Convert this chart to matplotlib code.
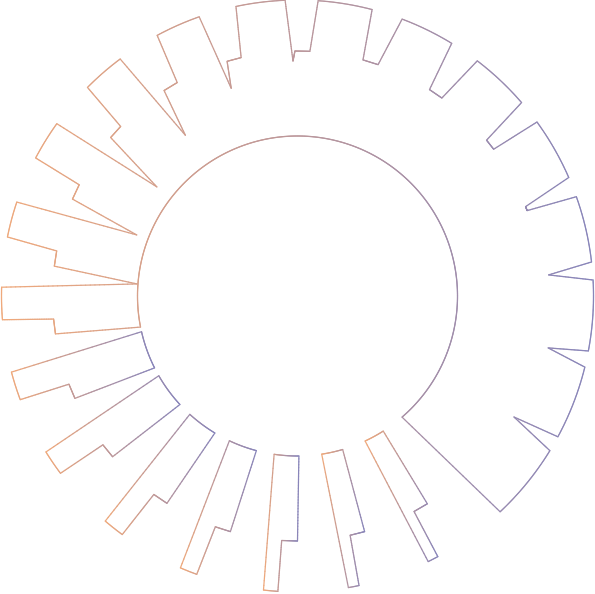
import numpy as np
import matplotlib
matplotlib.use("Agg")
import matplotlib.pyplot as plt
from matplotlib.collections import LineCollection
from matplotlib.colors import LinearSegmentedColormap

# radii of the three levels (pixels from centre)
R_IN, R_MID, R_OUT = 160, 245, 296

# upper band: outline vertices, angle in degrees (0 = right, ccw), radius
top_theta = [191.2, 188.9, 185.4, 184.6, 178.3,
             175.7, 173.0, 169.4, 168.5, 161.5,
             159.2, 156.7, 153.0, 152.2, 144.4,
             142.2, 139.7, 136.2, 135.2, 126.8,
             124.9, 123.0, 119.4, 118.3, 109.4,
             107.7, 106.7, 103.3, 102.0, 92.4,
             91.1, 90.6, 87.1, 86.0, 75.4,
             74.5, 70.8, 69.3, 58.6,
             57.4, 53.9, 52.6, 40.8,
             39.5, 36.8, 36.0, 23.6,
             21.4, 20.4, 19.6, 6.6,
             4.8, 3.1, -10.7,
             -11.7, -13.9, -28.4,
             -29.2, -31.5, -46.8,
             -49.2]
top_r = [160, 245, 245, 296, 296,
         161, 245, 245, 296, 296,
         172, 245, 245, 296, 296,
         178, 245, 245, 296, 296,
         196, 245, 245, 296, 296,
         218, 245, 245, 296, 296,
         235, 245, 245, 296, 296,
         245, 245, 296, 296,
         245, 245, 296, 296,
         245, 245, 296, 296,
         245, 245, 296, 296,
         252, 296, 296,
         256, 296, 296,
         248, 296, 296,
         160]

# lower bars: angles of inner arc, notch and outer arc
bar_in_a = [192.9, 209.9, 227.7, 244.8, 261.6, 278.7, 295.0]
bar_in_b = [206.7, 222.7, 238.9, 255.1, 270.5, 286.4, 302.4]
bar_mid_a = [204.7, 221.0, 237.8, 254.1, 270.0, 285.9, 302.0]
bar_mid_b = [201.1, 217.4, 234.1, 250.4, 266.3, 282.4, 298.4]
bar_out_a = [200.5, 216.8, 233.7, 250.1, 266.2, 282.0, 298.3]
bar_out_b = [194.9, 211.8, 229.5, 246.7, 263.4, 279.9, 296.2]

ORANGE = "#efa97c"
PURPLE = "#8885ba"
cmap = LinearSegmentedColormap.from_list("stroke", [ORANGE, PURPLE])


def edge(t0, r0, t1, r1, arc):
    """points from (t0, r0) to (t1, r1): arc at constant radius or straight line"""
    if arc:
        n = int(abs(t1 - t0) * 4) + 2
        t = np.radians(np.linspace(t0, t1, n))
        r = np.linspace(r0, r1, n)
        return r * np.cos(t), r * np.sin(t)
    x0, y0 = r0 * np.cos(np.radians(t0)), r0 * np.sin(np.radians(t0))
    x1, y1 = r1 * np.cos(np.radians(t1)), r1 * np.sin(np.radians(t1))
    s = np.linspace(0, 1, 30)
    return x0 + (x1 - x0) * s, y0 + (y1 - y0) * s


def outline(thetas, radii, arcs):
    xs, ys = [], []
    n = len(thetas)
    for i in range(n):
        j = (i + 1) % n
        t1 = thetas[j]
        if j == 0 and arcs[i] and t1 < thetas[i]:
            t1 += 360  # closing arc keeps going counter-clockwise
        x, y = edge(thetas[i], radii[i], t1, radii[j], arcs[i])
        xs.append(x)
        ys.append(y)
    return np.concatenate(xs), np.concatenate(ys)


def draw_gradient(ax, x, y, lw=0.9):
    pts = np.column_stack([x, y])
    segs = np.stack([pts[:-1], pts[1:]], axis=1)
    mid = (pts[:-1, 0] + pts[1:, 0]) / 2
    t = (mid - x.min()) / (x.max() - x.min())
    lc = LineCollection(segs, colors=cmap(t), linewidths=lw, capstyle="round")
    ax.add_collection(lc)


fig = plt.figure(figsize=(5.95, 5.94), dpi=100)
ax = fig.add_axes([0, 0, 1, 1])
ax.set_xlim(-297.5, 297.5)
ax.set_ylim(-298, 296)
ax.set_aspect("equal")
ax.axis("off")

# upper band: outer sawtooth, closed by the inner circle arc
n_top = len(top_theta)
top_arcs = [top_r[i] >= 290 and top_r[i + 1] >= 290 for i in range(n_top - 1)] + [True]
x, y = outline(top_theta, top_r, top_arcs)
draw_gradient(ax, x, y)

# lower bars
for k in range(len(bar_in_a)):
    thetas = [bar_in_a[k], bar_in_b[k], bar_mid_a[k], bar_mid_b[k],
              bar_out_a[k], bar_out_b[k]]
    radii = [R_IN, R_IN, R_MID, R_MID, R_OUT, R_OUT]
    bx, by = outline(thetas, radii, [True, False, False, False, True, False])
    draw_gradient(ax, bx, by)

fig.savefig("out.png", dpi=100, facecolor="white")
